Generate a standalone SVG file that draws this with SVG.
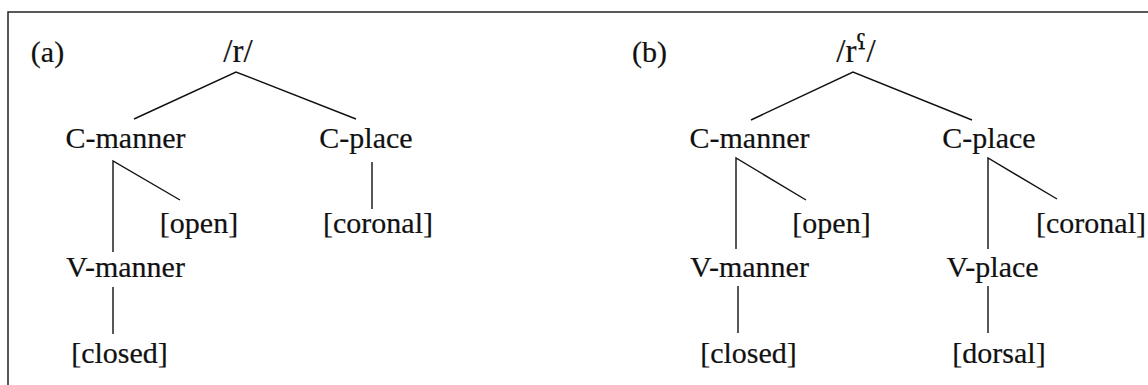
<svg xmlns="http://www.w3.org/2000/svg" width="1148" height="385" viewBox="0 0 1148 385">
  <style>
    text { font-family: "Liberation Serif", "DejaVu Serif", serif; font-size: 30px; fill: #111; stroke: #111; stroke-width: 0.2; text-anchor: middle; }
    .root { font-size: 33px; }
    .mod { font-family: "DejaVu Serif", serif; font-size: 36px; }
    .edge { stroke: #111; stroke-width: 1.4; fill: none; }
    .frame { stroke: #222; stroke-width: 1.5; fill: none; }
  </style>
  <rect width="1148" height="385" fill="#fff"/>
  <!-- frame: open on the right and bottom -->
  <path class="frame" d="M8,385 V12 H1148"/>

  <!-- panel labels -->
  <g id="label-a"><text x="47.5" y="62">(a)</text></g>
  <g id="label-b"><text x="649.5" y="62">(b)</text></g>

  <!-- tree (a) -->
  <g id="a-root"><text class="root" x="238" y="62">/r/</text></g>
  <g id="a-cmanner"><text x="125.5" y="148">C-manner</text></g>
  <g id="a-cplace"><text x="366" y="148">C-place</text></g>
  <g id="a-open"><text x="199" y="233">[open]</text></g>
  <g id="a-coronal"><text x="378" y="233">[coronal]</text></g>
  <g id="a-vmanner"><text x="125.5" y="277">V-manner</text></g>
  <g id="a-closed"><text x="119.5" y="363">[closed]</text></g>

  <!-- tree (b) -->
  <g id="b-root"><text class="root" x="856" y="62">/r<tspan class="mod">ˤ</tspan>/</text></g>
  <g id="b-cmanner"><text x="749.5" y="148">C-manner</text></g>
  <g id="b-cplace"><text x="989" y="148">C-place</text></g>
  <g id="b-open"><text x="831.5" y="233">[open]</text></g>
  <g id="b-coronal"><text x="1091" y="233">[coronal]</text></g>
  <g id="b-vmanner"><text x="749.5" y="277">V-manner</text></g>
  <g id="b-vplace"><text x="992.5" y="277">V-place</text></g>
  <g id="b-closed"><text x="748.5" y="363">[closed]</text></g>
  <g id="b-dorsal"><text x="999" y="363">[dorsal]</text></g>

  <!-- branches -->
  <g id="connectors" class="edge">
    <!-- (a) -->
    <path d="M134,119 L236,72 L356,119"/>
    <path d="M113,252 V161 L180,200"/>
    <path d="M372,162 V209"/>
    <path d="M113,287 V334"/>
    <!-- (b) -->
    <path d="M751,120 L853,72 L972,120"/>
    <path d="M736,249 V158 L806,200"/>
    <path d="M988,249 V158 L1057,199"/>
    <path d="M738,286 V333"/>
    <path d="M988,286 V333"/>
  </g>
</svg>
